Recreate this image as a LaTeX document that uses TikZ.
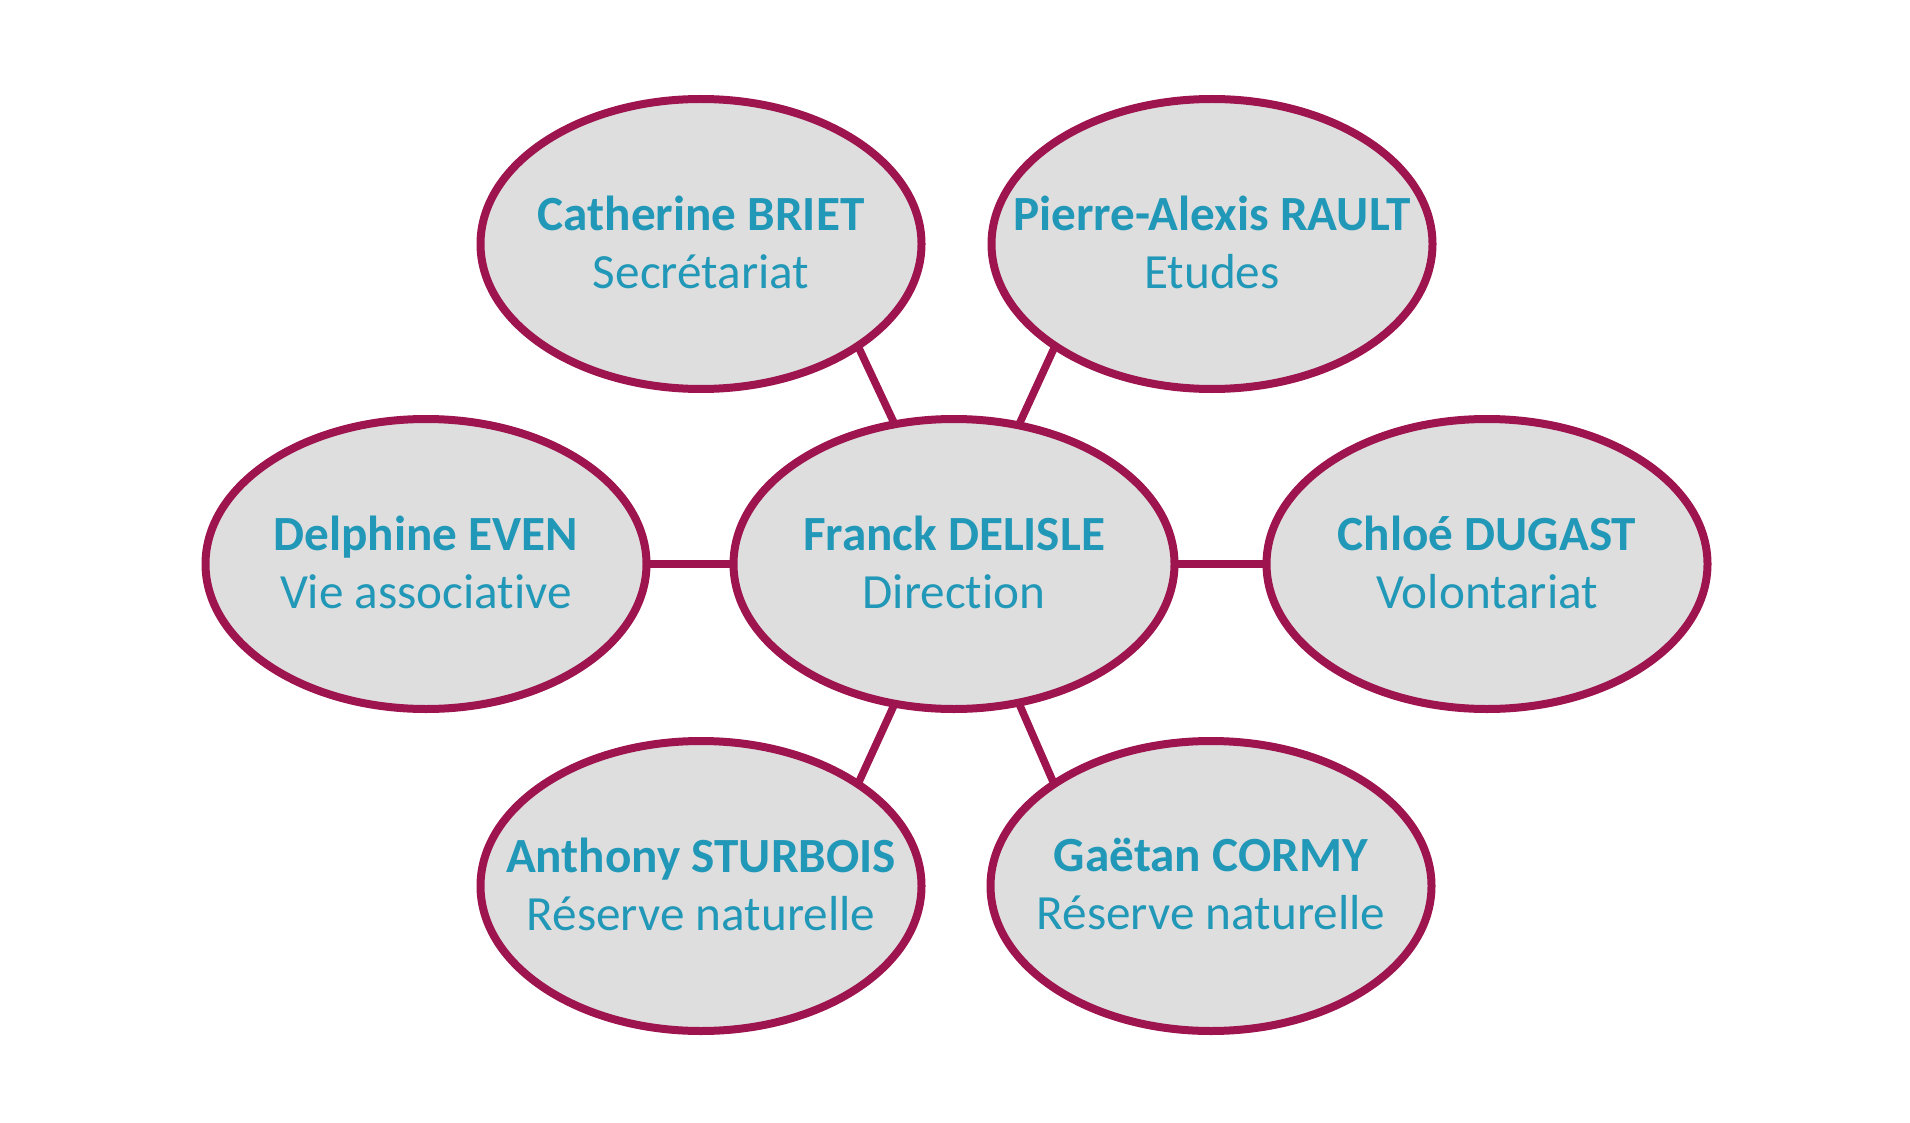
\documentclass[tikz,border=0pt]{standalone}
\usepackage{fontspec}
\setmainfont{Carlito}[Ligatures={NoCommon}]
\usetikzlibrary{shapes.geometric,backgrounds}
\definecolor{rim}{RGB}{158,20,78}
\definecolor{inner}{RGB}{222,222,222}
\definecolor{ink}{RGB}{33,152,183}
\begin{document}
\begin{tikzpicture}[x=0.5pt,y=-0.5pt,
  person/.style={ellipse,draw=rim,fill=inner,line width=4pt,minimum width=220.5pt,minimum height=145pt,inner sep=0pt,outer sep=0pt},
  txt/.style={align=center,text=ink,font=\fontsize{24.6}{29}\selectfont,inner sep=0pt},
  link/.style={draw=rim,line width=3.8pt}]
\useasboundingbox (0,0) rectangle (1910,1123);
\node[person] (fr) at (954,564) {};
\node[person] (cat) at (701,244) {};
\node[person] (pie) at (1212,244) {};
\node[person] (del) at (426,564) {};
\node[person] (chl) at (1487,564) {};
\node[person] (ant) at (701,886) {};
\node[person] (gae) at (1211,886) {};
\node[txt] (frT) at ([yshift=1pt]fr.center) {\textbf{Franck DELISLE}\\Direction};
\node[txt] (catT) at ([yshift=1pt]cat.center) {\textbf{Catherine BRIET}\\Secrétariat};
\node[txt] (pieT) at ([yshift=1pt]pie.center) {\textbf{Pierre-Alexis RAULT}\\Etudes};
\node[txt] (delT) at ([yshift=1pt]del.center) {\textbf{Delphine EVEN}\\Vie associative};
\node[txt] (chlT) at ([yshift=1pt]chl.center) {\textbf{Chloé DUGAST}\\Volontariat};
\node[txt] (antT) at ([yshift=1pt]ant.center) {\textbf{Anthony STURBOIS}\\Réserve naturelle};
\node[txt] (gaeT) at ([yshift=1pt]gae.center) {\textbf{Gaëtan CORMY}\\Réserve naturelle};
\begin{scope}[on background layer]
\draw[link] (cat.-33) -- (fr.113);
\draw[link] (pie.-147) -- (fr.65);
\draw[link] (ant.33) -- (fr.-113);
\draw[link] (gae.147) -- (fr.-65);
\draw[link] (del.east) -- (fr.west);
\draw[link] (chl.west) -- (fr.east);
\end{scope}
\end{tikzpicture}
\end{document}
